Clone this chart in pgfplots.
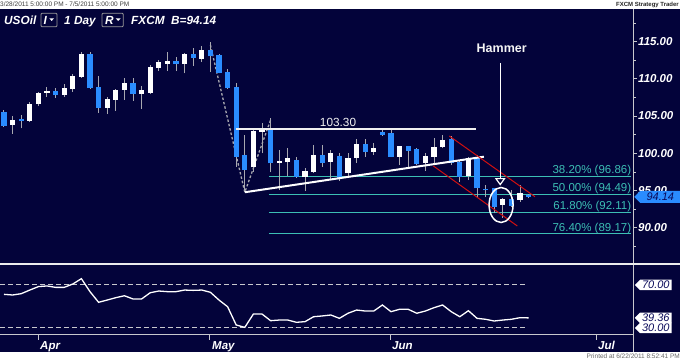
\documentclass[border=0pt]{standalone}
\usepackage{pgfplots}
\pgfplotsset{compat=1.18}
\usepackage{pgfplotstable}
\usepackage{fontspec}
\setmainfont{Liberation Sans}
\usetikzlibrary{shapes.symbols}
\definecolor{bg}{RGB}{3,3,58}
\definecolor{teal2}{RGB}{60,191,180}
\definecolor{cblue}{RGB}{42,140,255}
\definecolor{wick}{RGB}{168,168,176}
\definecolor{chred}{RGB}{208,16,16}
\definecolor{axgray}{RGB}{200,200,205}
\definecolor{boxtxt}{RGB}{10,10,90}

% bullish (white) candles
\pgfplotstableread{
i O H L C
1 103.80 105.00 102.65 104.48
3 104.35 106.94 104.17 106.67
4 106.59 108.29 106.32 108.11
5 108.11 108.88 107.57 108.38
7 107.84 109.28 107.61 108.74
8 108.61 110.63 108.24 110.40
9 110.26 113.59 110.17 113.32
12 106.09 107.57 105.28 107.34
13 107.21 108.65 105.69 108.51
14 108.51 110.17 107.21 109.50
16 107.98 109.09 105.96 108.47
17 108.15 111.79 107.98 111.57
18 111.44 112.55 111.11 112.28
19 112.05 113.59 111.07 112.32
21 111.98 113.45 110.71 113.36
23 112.69 114.34 112.24 113.90
29 98.11 103.36 97.52 103.04
30 102.90 104.03 100.00 103.44
32 98.70 100.44 95.05 98.90
33 98.78 100.67 96.98 99.40
35 96.85 97.98 94.92 97.61
36 97.52 101.11 97.38 99.77
38 98.86 100.44 96.40 100.00
40 97.30 100.00 96.85 99.36
41 99.32 101.88 98.73 101.21
43 100.17 101.34 99.77 100.67
46 99.54 100.98 98.42 100.98
49 98.73 100.00 97.65 99.67
50 99.54 102.01 98.42 100.89
51 100.80 102.46 100.67 101.79
54 96.94 99.54 96.40 99.32
58 93.07 93.94 91.38 93.87
60 93.78 95.73 93.47 94.68
}\bull

% bearish (blue) candles
\pgfplotstableread{
i O H L C
0 105.50 105.80 103.50 103.70
2 104.57 105.15 103.36 104.38
6 108.38 108.78 107.43 107.84
10 113.32 113.59 108.60 108.74
11 108.88 110.44 105.42 106.09
15 109.50 110.09 107.07 107.98
20 112.32 112.92 111.03 111.92
22 113.36 114.13 111.71 112.82
24 113.80 115.00 110.90 113.00
25 113.13 113.32 110.71 110.84
26 110.90 111.34 108.65 108.74
27 108.88 109.42 98.19 99.54
28 99.77 102.46 94.75 97.75
31 103.44 104.70 97.44 98.65
34 99.09 99.54 96.71 96.85
37 99.77 101.11 98.19 98.73
39 99.63 100.00 96.31 96.71
42 101.25 101.92 99.54 100.21
44 102.90 103.23 102.32 102.46
45 102.77 103.25 99.50 99.54
47 100.98 100.98 98.11 100.35
48 100.58 100.67 98.42 98.56
52 101.88 102.32 98.42 98.65
53 98.78 99.09 96.17 96.85
55 99.46 99.77 93.94 95.29
56 95.23 95.73 94.07 95.05
57 95.30 95.40 91.92 92.80
59 93.85 95.05 92.83 92.91
61 94.40 94.60 93.95 94.14
}\bear

% RSI
\pgfplotstableread{
i v
0 61.3
1 60.7
2 61.9
3 65.3
4 68.5
5 69.1
6 67.8
7 67.8
8 70.9
9 75.9
10 63.8
11 53.9
12 56.0
13 58.2
14 60.0
15 57.0
16 57.0
17 62.8
18 64.4
19 63.8
20 63.8
21 65.3
22 65.0
23 65.3
24 63.2
25 56.0
26 49.8
27 32.8
28 30.6
29 43.0
30 43.0
31 36.8
32 37.4
33 37.4
34 35.3
35 35.9
36 40.5
37 41.2
38 42.1
39 39.0
40 43.7
41 46.7
42 45.8
43 45.8
44 51.4
45 45.2
46 47.4
47 47.4
48 43.7
49 45.8
50 48.9
51 51.4
52 45.2
53 40.5
54 46.1
55 39.0
56 38.1
57 36.5
58 37.4
59 38.1
60 39.6
61 39.4
}\rsi

\begin{document}
\begin{tikzpicture}[x=1pt,y=1pt]
\useasboundingbox (0,0) rectangle (680,361);
\fill[white] (0,0) rectangle (680,361);
\fill[bg] (0,9) rectangle (680,351.5);

% header texts
\node[anchor=west, inner sep=0pt, font=\fontsize{6.5}{7}\selectfont, text=black!75] at (0,356.5) {3/28/2011 5:00:00 PM - 7/5/2011 5:00:00 PM};
\node[anchor=east, inner sep=0pt, font=\bfseries\fontsize{6}{7}\selectfont, text=black!85] at (679,356.5) {FXCM Strategy Trader};
\node[anchor=east, inner sep=0pt, font=\fontsize{6.5}{7}\selectfont, text=black!60] at (680,4.5) {Printed at 6/22/2011 8:52:41 PM};

\begin{scope}[font=\bfseries\itshape\fontsize{11.8}{13}\selectfont, text=white]
\node[anchor=base west, inner sep=0pt] at (4,336) {USOil};
\draw[gray!80, line width=0.8pt, rounded corners=1pt] (41,334.3) rectangle (57,347.7);
\node[anchor=base west, inner sep=0pt] at (43.3,336) {I};
\fill[white] (49.3,342.7) -- (54,342.7) -- (51.65,340) -- cycle;
\node[anchor=base west, inner sep=0pt] at (64,336) {1 Day};
\draw[gray!80, line width=0.8pt, rounded corners=1pt] (102,334.3) rectangle (123.3,347.7);
\node[anchor=base west, inner sep=0pt] at (105,336) {R};
\fill[white] (115.7,342.7) -- (120.7,342.7) -- (118.2,340) -- cycle;
\node[anchor=base west, inner sep=0pt] at (131,336) {FXCM};
\node[anchor=base west, inner sep=0pt] at (171,336) {B=94.14};
\end{scope}

% ===== main price panel =====
\begin{axis}[
  at={(0pt,97pt)}, anchor=south west,
  width=633pt, height=254.5pt, scale only axis,
  xmin=-0.465, xmax=73.14, ymin=85.14, ymax=119.30,
  axis line style={draw=none},
  xtick=\empty, ytick pos=right,
  ytick={90,95,100,105,110,115},
  yticklabels={90.00,95.00,100.00,105.00,110.00,115.00},
  minor ytick={87.5,92.5,97.5,102.5,107.5,112.5,117.5},
  tick align=outside, major tick length=4pt, minor tick length=2.5pt,
  every tick/.style={draw=axgray, line width=0.8pt},
  yticklabel style={font=\bfseries\itshape\fontsize{11.5}{12}\selectfont, text=white, anchor=west, inner sep=0pt, xshift=1pt},
  clip=false,
]
% fibonacci levels
\addplot[teal2, line width=1pt] coordinates {(30.8,96.86) (72.95,96.86)};
\addplot[teal2, line width=1pt] coordinates {(30.8,94.49) (72.95,94.49)};
\addplot[teal2, line width=1pt] coordinates {(30.8,92.11) (72.95,92.11)};
\addplot[teal2, line width=1pt] coordinates {(30.8,89.17) (72.95,89.17)};
\begin{scope}[font=\fontsize{11.5}{12}\selectfont, text=teal2]
\node[anchor=base east, inner sep=0pt] at (axis cs:72.95,96.86) [yshift=2.7pt] {38.20\% (96.86)};
\node[anchor=base east, inner sep=0pt] at (axis cs:72.95,94.49) [yshift=2.7pt] {50.00\% (94.49)};
\node[anchor=base east, inner sep=0pt] at (axis cs:72.95,92.11) [yshift=2.7pt] {61.80\% (92.11)};
\node[anchor=base east, inner sep=0pt] at (axis cs:72.95,89.17) [yshift=2.7pt] {76.40\% (89.17)};
\end{scope}

% dotted swing line
\addplot[wick, line width=1.3pt, dash pattern=on 2.5pt off 2pt] coordinates {(24,114.54) (28,94.77) (31,104.47)};

% wicks
\addplot[draw=none, mark=none, forget plot, error bars/.cd, y dir=plus, y explicit, error mark=none,
  error bar style={draw=wick, line width=1pt}]
  table[x=i, y=L, y error plus expr=\thisrow{H}-\thisrow{L}] {\bull};
\addplot[draw=none, mark=none, forget plot, error bars/.cd, y dir=plus, y explicit, error mark=none,
  error bar style={draw=wick, line width=1pt}]
  table[x=i, y=L, y error plus expr=\thisrow{H}-\thisrow{L}] {\bear};
% bodies
\addplot[draw=none, mark=none, forget plot, error bars/.cd, y dir=plus, y explicit, error mark=none,
  error bar style={draw=white, line width=5.2pt}]
  table[x=i, y=O, y error plus expr=\thisrow{C}-\thisrow{O}] {\bull};
\addplot[draw=none, mark=none, forget plot, error bars/.cd, y dir=plus, y explicit, error mark=none,
  error bar style={draw=cblue, line width=5.2pt}]
  table[x=i, y=C, y error plus expr=\thisrow{O}-\thisrow{C}] {\bear};

% triangle
\addplot[white!88!gray, line width=2pt] coordinates {(27,103.30) (54.85,103.30)};
\addplot[white, line width=2pt] coordinates {(28,94.77) (55.8,99.54)};
\node[anchor=base, inner sep=0pt, font=\fontsize{11.8}{12}\selectfont, text=white!90!gray] at (axis cs:38.84,103.65) {103.30};

% descending channel
\addplot[chred, line width=1pt] coordinates {(51.78,102.32) (61.74,94.17)};
\addplot[chred, line width=1pt] coordinates {(49.92,98.30) (59.69,90.24)};

% hammer annotation
\addplot[white, line width=1.3pt] coordinates {(57.7,112.12) (57.7,96.55)};
\addplot[white, line width=1.2pt, fill=bg] coordinates {(57.2,96.6) (58.2,96.6) (57.7,95.8)} -- cycle;
\node[font=\bfseries\fontsize{12.5}{13}\selectfont, text=white!92!gray] at (axis cs:57.87,114.13) {Hammer};
\draw[white, line width=1.5pt] (axis cs:57.8,93.06) ellipse [x radius=12pt, y radius=17.5pt];

% current price marker
\node[signal, signal to=west, fill=cblue, text=boxtxt, anchor=west, inner xsep=3pt, inner ysep=1pt,
  minimum height=12pt, minimum width=46pt, font=\itshape\fontsize{11}{12}\selectfont]
  at (axis cs:73.14,94.14) [xshift=1pt] {94.14};
\end{axis}

% separator and right axis line
\draw[axgray, line width=0.8pt] (633,9) -- (633,351.5);
\draw[white!85!gray, line width=2pt] (0,96.5) -- (680,96.5);
% bottom axis line and month ticks
\draw[axgray, line width=1pt] (0,26) -- (633,26);
\foreach \t in {38.5,209,390,596} \draw[axgray, line width=1pt] (\t,26) -- (\t,21);

% ===== RSI panel =====
\begin{axis}[
  at={(0pt,26pt)}, anchor=south west,
  width=633pt, height=70pt, scale only axis,
  xmin=-0.465, xmax=73.14, ymin=23.49, ymax=88.6,
  axis line style={draw=none},
  xtick=\empty, ytick=\empty,
  clip=false,
]
\addplot[axgray, line width=1pt, dash pattern=on 5pt off 3pt] coordinates {(-0.465,70) (60.9,70)};
\addplot[axgray, line width=1pt, dash pattern=on 5pt off 3pt] coordinates {(-0.465,30) (60.9,30)};
\addplot[white, line width=1.3pt] table[x=i, y=v] {\rsi};
\begin{scope}[every node/.style={signal, signal to=west, fill=white, text=boxtxt, anchor=west,
  inner xsep=2pt, inner ysep=0.5pt, minimum height=10.5pt, font=\itshape\fontsize{11}{12}\selectfont}]
\node at (axis cs:73.14,70) [xshift=1.5pt] {70.00};
\node at (axis cs:73.14,30) [xshift=1.5pt] {30.00};
\node at (axis cs:73.14,39.36) [xshift=1.5pt] {39.36};
\end{scope}
\end{axis}

% month labels
\begin{scope}[font=\bfseries\itshape\fontsize{11.5}{12}\selectfont, text=white]
\node[anchor=base west, inner sep=0pt] at (40,11) {Apr};
\node[anchor=base west, inner sep=0pt] at (212,11) {May};
\node[anchor=base west, inner sep=0pt] at (392,11) {Jun};
\node[anchor=base west, inner sep=0pt] at (598,11) {Jul};
\end{scope}
\end{tikzpicture}
\end{document}
